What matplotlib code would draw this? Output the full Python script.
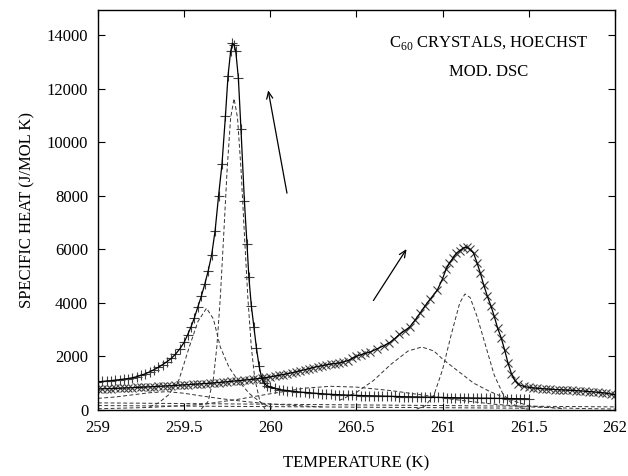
import matplotlib
matplotlib.use("Agg")
import matplotlib.pyplot as plt
import numpy as np

plt.rcParams['font.family'] = ['Liberation Serif', 'DejaVu Serif']
plt.rcParams['mathtext.fontset'] = 'custom'
plt.rcParams['mathtext.rm'] = 'Liberation Serif'

# ---- Series A (+ markers): sharp transition near 259.8 K ----
tA = [259.000, 259.025, 259.050, 259.075, 259.100, 259.125, 259.150, 259.175, 259.200, 259.225,
      259.250, 259.275, 259.300, 259.325, 259.350, 259.375, 259.400, 259.425, 259.450, 259.475,
      259.500, 259.520, 259.540, 259.560, 259.580, 259.600, 259.620, 259.640, 259.660, 259.680,
      259.700, 259.720, 259.740, 259.755, 259.770, 259.780, 259.790, 259.800, 259.815, 259.830,
      259.850, 259.865, 259.876, 259.890, 259.905, 259.920, 259.935, 259.950, 259.965, 259.980,
      260.000, 260.025, 260.050, 260.075, 260.100, 260.125, 260.150, 260.175, 260.200, 260.225,
      260.250, 260.275, 260.300, 260.325, 260.350, 260.375, 260.400, 260.425, 260.450, 260.475,
      260.500, 260.525, 260.550, 260.575, 260.600, 260.625, 260.650, 260.675, 260.700, 260.725,
      260.750, 260.775, 260.800, 260.825, 260.850, 260.875, 260.900, 260.925, 260.950, 260.975,
      261.000, 261.025, 261.050, 261.075, 261.100, 261.125, 261.150, 261.175, 261.200, 261.225,
      261.250, 261.275, 261.300, 261.325, 261.350, 261.375, 261.400, 261.425, 261.450, 261.475,
      261.500]
cA = [1040, 1060, 1080, 1090, 1110, 1130, 1150, 1170, 1200, 1240,
      1290, 1350, 1420, 1500, 1590, 1690, 1800, 1920, 2080, 2280,
      2520, 2800, 3100, 3450, 3850, 4250, 4700, 5200, 5800, 6700,
      8000, 9200, 11000, 12500, 13400, 13700, 13650, 13400, 12400, 10500,
      7800, 6200, 4950, 3900, 3100, 2300, 1650, 1200, 1000, 900,
      850, 800, 760, 740, 720, 700, 680, 665, 650, 640,
      625, 612, 600, 590, 580, 572, 565, 558, 552, 546,
      540, 535, 530, 526, 522, 518, 514, 510, 505, 500,
      496, 492, 488, 485, 482, 478, 475, 472, 468, 465,
      462, 459, 456, 453, 450, 447, 445, 442, 440, 437,
      435, 432, 430, 428, 425, 423, 420, 418, 416, 413,
      410]

# ---- Series B (x markers): broad transition near 261.1 K ----
tB = [259.000, 259.025, 259.050, 259.075, 259.100, 259.125, 259.150, 259.175, 259.200, 259.225,
      259.250, 259.275, 259.300, 259.325, 259.350, 259.375, 259.400, 259.425, 259.450, 259.475,
      259.500, 259.525, 259.550, 259.575, 259.600, 259.625, 259.650, 259.675, 259.700, 259.725,
      259.750, 259.775, 259.800, 259.825, 259.850, 259.875, 259.900, 259.925, 259.950, 259.975,
      260.000, 260.025, 260.050, 260.075, 260.100, 260.125, 260.150, 260.175, 260.200, 260.225,
      260.250, 260.275, 260.300, 260.325, 260.350, 260.375, 260.400, 260.425, 260.450, 260.475,
      260.500, 260.525, 260.550, 260.580, 260.620, 260.660, 260.690, 260.720, 260.750, 260.780,
      260.810, 260.840, 260.870, 260.900, 260.930, 260.970, 261.000, 261.020, 261.040, 261.060,
      261.080, 261.100, 261.120, 261.140, 261.160, 261.180, 261.200, 261.220, 261.240, 261.260,
      261.280, 261.300, 261.320, 261.340, 261.360, 261.380, 261.400, 261.420, 261.440, 261.470,
      261.500, 261.525, 261.550, 261.575, 261.600, 261.625, 261.650, 261.675, 261.700, 261.725,
      261.750, 261.775, 261.800, 261.825, 261.850, 261.875, 261.900, 261.925, 261.950, 261.975,
      262.000]
cB = [780, 785, 790, 795, 800, 807, 814, 821, 828, 836,
      845, 852, 860, 868, 876, 884, 893, 902, 912, 922,
      932, 942, 952, 962, 972, 984, 996, 1008, 1020, 1035,
      1050, 1065, 1080, 1095, 1110, 1128, 1146, 1165, 1185, 1207,
      1230, 1260, 1290, 1320, 1350, 1385, 1420, 1460, 1500, 1540,
      1580, 1620, 1650, 1680, 1710, 1730, 1750, 1790, 1840, 1920,
      2000, 2060, 2110, 2160, 2280, 2400, 2500, 2650, 2820, 2960,
      3100, 3350, 3620, 3900, 4150, 4480, 4900, 5250, 5490, 5670,
      5850, 5950, 6050, 6080, 6000, 5860, 5500, 5100, 4650, 4250,
      3900, 3500, 3050, 2700, 2250, 1750, 1350, 1100, 950, 880,
      840, 820, 805, 790, 780, 770, 760, 752, 744, 736,
      728, 718, 708, 696, 684, 670, 655, 640, 620, 590,
      560]

# ---- Fit components (dashed) ----
tA1 = [259.60, 259.64, 259.67, 259.69, 259.71, 259.73, 259.75, 259.77, 259.79, 259.81,
       259.83, 259.85, 259.87, 259.89, 259.91, 259.94, 259.97]
cA1 = [35, 320, 1170, 2360, 4190, 6560, 9020, 10920, 11640, 10920,
       9020, 6560, 4190, 2360, 1170, 320, 35]
tA2 = [259.30, 259.35, 259.41, 259.47, 259.53, 259.58, 259.63, 259.67, 259.71, 259.76,
       259.81, 259.88, 259.95, 260.01]
cA2 = [120, 250, 560, 1120, 2350, 3300, 3800, 3400, 2350, 1600,
       1120, 600, 250, 60]
tA3 = [259.00, 259.10, 259.20, 259.30, 259.40, 259.50, 259.60, 259.70, 259.80, 259.90,
       260.00, 260.15, 260.30]
cA3 = [430, 480, 560, 640, 680, 620, 520, 430, 350, 280,
       220, 160, 110]
tAb = [259.00, 260.00, 261.00, 261.50]
cAb = [160, 120, 80, 60]

tB1 = [260.85, 260.90, 260.95, 261.00, 261.05, 261.10, 261.13, 261.16, 261.20, 261.25,
       261.30, 261.35, 261.40, 261.45, 261.50]
cB1 = [30, 150, 550, 1500, 2800, 4000, 4330, 4200, 3500, 2400,
       1300, 600, 250, 80, 20]
tB2 = [260.40, 260.50, 260.60, 260.70, 260.80, 260.88, 260.95, 261.00, 261.10, 261.18,
       261.27, 261.37, 261.50, 261.70]
cB2 = [350, 650, 1100, 1700, 2200, 2350, 2200, 1900, 1400, 1000,
       700, 420, 150, 40]
tB3 = [259.00, 259.30, 259.60, 259.80, 260.00, 260.20, 260.35, 260.50, 260.70, 260.90,
       261.10, 261.30, 261.50, 261.80, 262.00]
cB3 = [40, 90, 200, 380, 600, 810, 880, 850, 720, 540,
       360, 210, 110, 50, 30]
tBb = [259.00, 260.00, 261.00, 262.00]
cBb = [260, 210, 160, 110]

xticks = [259, 259.5, 260, 260.5, 261, 261.5, 262]
xticklabels = ['259', '259.5', '260', '260.5', '261', '261.5', '262']
yticks = [0, 2000, 4000, 6000, 8000, 10000, 12000, 14000]

fig = plt.figure(figsize=(6.28, 4.76), dpi=100)
ax = fig.add_axes([0.156, 0.139, 0.823, 0.840])

dash = dict(color='0.2', lw=0.7, ls=(0, (4, 2.5)))
for t, c in [(tA1, cA1), (tA2, cA2), (tA3, cA3), (tAb, cAb),
             (tB1, cB1), (tB2, cB2), (tB3, cB3), (tBb, cBb)]:
    ax.plot(t, c, **dash)

ax.plot(tA, cA, ls='none', marker='+', ms=7, mew=0.8, color='0.25')
ax.plot(tB, cB, ls='none', marker='x', ms=6, mew=0.8, color='0.25')
ax.plot(tA, cA, '-', color='k', lw=0.9)
ax.plot(tB, cB, '-', color='k', lw=0.9)

arrow = dict(arrowstyle='->,head_length=0.5,head_width=0.22', lw=0.9, color='k')
ax.annotate('', xy=(259.985, 12050), xytext=(260.10, 8000), arrowprops=arrow)
ax.annotate('', xy=(260.80, 6100), xytext=(260.59, 4000), arrowprops=arrow)

ax.text(261.27, 13700, r'C$_{\mathrm{60}}$ CRYSTALS, HOECHST', ha='center', va='center', fontsize=12)
ax.text(261.27, 12620, 'MOD. DSC', ha='center', va='center', fontsize=12)

ax.set_xlim(259, 262)
ax.set_ylim(0, 14950)
ax.set_xticks(xticks)
ax.set_xticklabels(xticklabels)
ax.set_yticks(yticks)
ax.tick_params(direction='in', top=True, right=True, length=5, width=0.8, labelsize=12, pad=7)
for s in ax.spines.values():
    s.set_linewidth(1.0)

ax.set_xlabel('TEMPERATURE (K)', fontsize=12, labelpad=14)
ax.set_ylabel('SPECIFIC HEAT (J/MOL K)', fontsize=12, labelpad=8)

fig.savefig('out.png', dpi=100)
